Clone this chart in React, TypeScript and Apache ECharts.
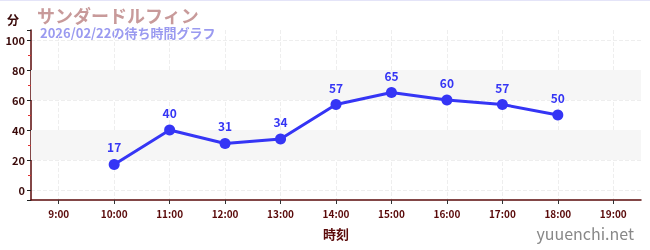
import React, { useEffect, useRef } from "react";
import * as echarts from "echarts";

const hours = [9, 10, 11, 12, 13, 14, 15, 16, 17, 18, 19];
const dataHours = [10, 11, 12, 13, 14, 15, 16, 17, 18];
const waitTimes = [17, 40, 31, 34, 57, 65, 60, 57, 50];
const yTicks = [0, 20, 40, 60, 80, 100];
const bands = [[20, 40], [60, 80]];
const title = "サンダードルフィン";
const subtitle = "2026/02/22の待ち時間グラフ";
const yName = "分";
const xName = "時刻";
const watermark = "yuuenchi.net";

const FONT = "'Noto Sans CJK JP', 'Noto Sans', sans-serif";
const AXIS = "#5a0a0a";

export default function App() {
  const ref = useRef<HTMLDivElement>(null);
  useEffect(() => {
    if (!ref.current) return;
    const chart = echarts.init(ref.current, undefined, { renderer: "svg" });
    chart.setOption({
      animation: false,
      textStyle: { fontFamily: FONT },
      grid: { left: 31, right: 9, top: 30, bottom: 50 },
      graphic: [
        { type: "rect", shape: { x: 0, y: 0, width: 650, height: 1 }, style: { fill: "#e4e4f8" } },
        { type: "text", x: 37, y: 14.5, style: { text: title, fill: "#c89a9a", font: `bold 18px ${FONT}`, verticalAlign: "middle" } },
        { type: "text", x: 40, y: 32, style: { text: subtitle, fill: "#9a9af0", font: `bold 13px ${FONT}`, verticalAlign: "middle" } },
        { type: "text", x: 7, y: 19, style: { text: yName, fill: "#3a0a0a", font: `bold 12px ${FONT}`, verticalAlign: "middle" } },
        { type: "text", right: 16, bottom: 9, style: { text: watermark, fill: "#888888", font: `16px ${FONT}` } },
      ],
      xAxis: {
        type: "value",
        min: hours[0] - 0.5,
        max: hours[hours.length - 1] + 0.5,
        splitNumber: 10,
        name: xName,
        nameLocation: "middle",
        nameGap: 27,
        nameTextStyle: { color: AXIS, fontWeight: "bold", fontSize: 13, fontFamily: FONT },
        axisLine: { onZero: false, lineStyle: { color: AXIS, width: 1.5 } },
        axisTick: { show: true, lineStyle: { color: "#333" }, length: 4, inside: false },
        axisLabel: {
          color: AXIS,
          fontSize: 10,
          fontWeight: "bold",
          showMinLabel: false,
          showMaxLabel: false,
          formatter: (v: number) => (hours.includes(v) ? `${v}:00` : ""),
        },
        splitLine: { show: true, showMinLine: false, showMaxLine: false, lineStyle: { color: "#eeeeee", type: "dashed" } },
      },
      yAxis: {
        type: "value",
        min: -6.67,
        max: 106.67,
        splitNumber: 5,
        axisLine: { show: true, onZero: false, lineStyle: { color: AXIS, width: 1.5 } },
        axisTick: { show: true, lineStyle: { color: "#222" }, length: 4 },
        minorTick: { show: true, splitNumber: 2, length: 3, lineStyle: { color: "#e03030" } },
        axisLabel: {
          color: "#3a0a0a",
          fontSize: 11,
          fontWeight: "bold",
          margin: 6,
          showMinLabel: false,
          showMaxLabel: false,
          formatter: (v: number) => (yTicks.includes(v) ? String(v) : ""),
        },
        splitLine: { show: true, showMinLine: false, showMaxLine: false, lineStyle: { color: "#eeeeee", type: "dashed" } },
      },
      series: [
        {
          type: "line",
          data: dataHours.map((h, i) => [h, waitTimes[i]]),
          color: "#3535f5",
          lineStyle: { width: 3, color: "#3535f5" },
          symbol: "circle",
          symbolSize: 11,
          itemStyle: { color: "#3535f5" },
          label: {
            show: true,
            position: "top",
            distance: 6,
            color: "#3535f5",
            fontWeight: "bold",
            fontSize: 12,
            formatter: (p: any) => String(p.value[1]),
          },
          markArea: {
            silent: true,
            itemStyle: { color: "#f6f6f6" },
            data: bands.map(([a, b]) => [{ yAxis: a }, { yAxis: b }]),
          },
          z: 3,
        },
      ],
    });
    return () => chart.dispose();
  }, []);
  return <div ref={ref} style={{ position: "fixed", left: 0, top: 0, width: 650, height: 250 }} />;
}
